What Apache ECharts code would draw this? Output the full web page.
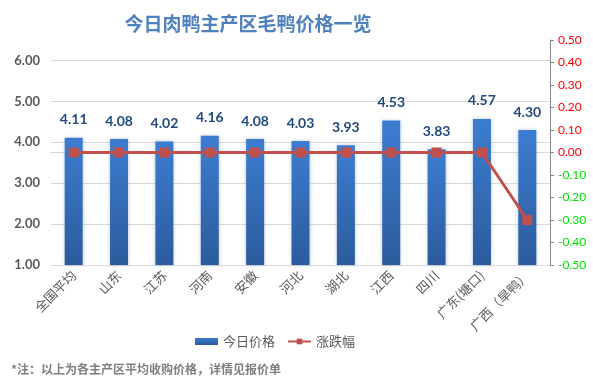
<!DOCTYPE html>
<html><head><meta charset="utf-8">
<script src="https://cdn.jsdelivr.net/npm/echarts@6/dist/echarts.min.js"></script>
<style>html,body{margin:0;padding:0;background:#fff}#c{width:593px;height:392px}</style>
</head><body><div id="c"></div>
<script>
const categories = ['全国平均','山东','江苏','河南','安徽','河北','湖北','江西','四川','广东(塘口)','广西（旱鸭）'];
const prices = [4.11,4.08,4.02,4.16,4.08,4.03,3.93,4.53,3.83,4.57,4.30];
const changes = [0,0,0,0,0,0,0,0,0,0,-0.30];
const titleText = '今日肉鸭主产区毛鸭价格一览';
const noteText = '*注：以上为各主产区平均收购价格，详情见报价单';
const seriesNames = ['今日价格','涨跌幅'];

const cjk = '"Noto Sans CJK SC", sans-serif';
const num = 'Lato, "Noto Sans", sans-serif';
const chart = echarts.init(document.getElementById('c'));
chart.setOption({
  animation:false,
  backgroundColor:'#fff',
  title:{text:titleText,left:243,textAlign:'center',top:9,
    textStyle:{fontFamily:cjk,fontSize:19,fontWeight:'bold',color:'#4F81BD'}},
  graphic:[{type:'text',left:11,top:363,style:{text:noteText,font:'bold 12px "Noto Sans CJK SC"',fill:'#7F7F7F'}}],
  legend:{left:190,top:330,itemGap:12,itemWidth:23,itemHeight:7,
    textStyle:{fontFamily:cjk,fontSize:13,color:'#595959'},
    data:[{name:seriesNames[0],icon:'rect'},{name:seriesNames[1]}]},
  grid:{left:51,right:43,top:40,bottom:127},
  xAxis:{type:'category',data:categories,
    axisLine:{lineStyle:{color:'#D9D9D9'}},axisTick:{show:false},
    axisLabel:{rotate:45,interval:0,margin:8,fontFamily:cjk,fontSize:13,color:'#595959'}},
  yAxis:[
    {type:'value',min:1,max:6.5,interval:1,
     axisLine:{show:false},axisTick:{show:false},
     splitLine:{showMaxLine:false,lineStyle:{color:'#D9D9D9'}},
     axisLabel:{margin:11,fontFamily:num,fontWeight:'bold',fontSize:13,color:'#595959',
       formatter:v=>v>6.2?'':v.toFixed(2)}},
    {type:'value',min:-0.5,max:0.5,interval:0.1,position:'right',
     axisLine:{show:true,lineStyle:{color:'#868686'}},
     axisTick:{show:true,length:4,lineStyle:{color:'#868686'}},
     splitLine:{show:false},
     axisLabel:{margin:8,fontFamily:num,fontSize:12,
       formatter:v=>{const t=(Math.round(v*100)/100).toFixed(2);return v<-1e-9?'{g|'+t+'}':'{r|'+(t==='-0.00'?'0.00':t)+'}';},
       rich:{r:{color:'#FF0000',fontFamily:num,fontSize:12},g:{color:'#00E000',fontFamily:num,fontSize:12}}}}
  ],
  series:[
    {name:seriesNames[0],type:'bar',data:prices,barWidth:18,yAxisIndex:0,
     itemStyle:{color:new echarts.graphic.LinearGradient(0,0,0,1,[{offset:0,color:'#3C7DD1'},{offset:1,color:'#2C5B9C'}]),
       shadowBlur:4,shadowColor:'rgba(60,100,160,0.35)'},
     label:{show:true,position:'top',distance:11,fontFamily:num,fontWeight:'bold',fontSize:14,color:'#1F497D',
       formatter:p=>p.value.toFixed(2)}},
    {name:seriesNames[1],type:'line',data:changes,yAxisIndex:1,symbol:'rect',symbolSize:10,
     lineStyle:{color:'#C0504D',width:3},itemStyle:{color:'#C0504D'}}
  ]
});
</script></body></html>
